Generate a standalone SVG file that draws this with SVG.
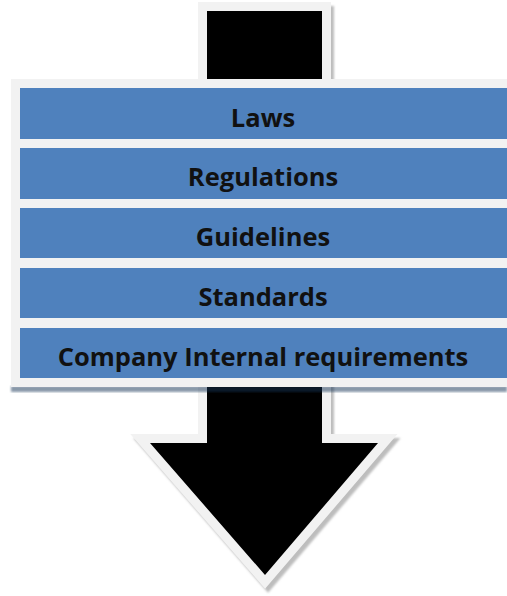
<svg xmlns="http://www.w3.org/2000/svg" width="507" height="596" viewBox="0 0 507 596">
  <defs>
    <filter id="soft" x="-10%" y="-10%" width="120%" height="120%">
      <feGaussianBlur stdDeviation="1.2"/>
    </filter>
    <style>
      .bar { fill: #4f81bd; }
      .lbl { font-family: "Open Sans", "Liberation Sans", sans-serif; font-weight: bold; font-size: 25.5px; fill: #111111; text-anchor: middle; }
      .arrowOut { fill: #f2f2f2; stroke: #f2f2f2; stroke-width: 18; stroke-linejoin: miter; stroke-miterlimit: 10; }
      .arrowShadow { fill: #bdbdbd; stroke: #bdbdbd; stroke-width: 18; stroke-linejoin: miter; stroke-miterlimit: 10; }
    </style>
  </defs>
  <rect width="507" height="596" fill="#ffffff"/>

  <g id="arrow">
    <polygon class="arrowShadow" filter="url(#soft)" transform="translate(3,4)" points="207,11 322,11 322,443 378,443 265,575 150,443 207,443"/>
    <polygon class="arrowOut" points="207,11 322,11 322,443 378,443 265,575 150,443 207,443"/>
    <polygon fill="#000000" points="207,11 322,11 322,443 378,443 265,575 150,443 207,443"/>
  </g>

  <g id="panel">
    <rect x="11" y="386" width="496" height="6" fill="#193557" opacity="0.5" filter="url(#soft)"/>
    <rect x="11" y="79" width="496" height="308" fill="#f2f2f2"/>
  </g>

  <g id="laws">
    <rect class="bar" x="20" y="88" width="487" height="51"/>
    <text class="lbl" x="263" y="127">Laws</text>
  </g>
  <g id="regulations">
    <rect class="bar" x="20" y="148" width="487" height="51"/>
    <text class="lbl" x="263" y="186">Regulations</text>
  </g>
  <g id="guidelines">
    <rect class="bar" x="20" y="208" width="487" height="50"/>
    <text class="lbl" x="263" y="246">Guidelines</text>
  </g>
  <g id="standards">
    <rect class="bar" x="20" y="268" width="487" height="50"/>
    <text class="lbl" x="263" y="306">Standards</text>
  </g>
  <g id="company">
    <rect class="bar" x="20" y="328" width="487" height="50"/>
    <text class="lbl" x="263" y="366">Company Internal requirements</text>
  </g>

  <g id="connectors"></g>
</svg>
